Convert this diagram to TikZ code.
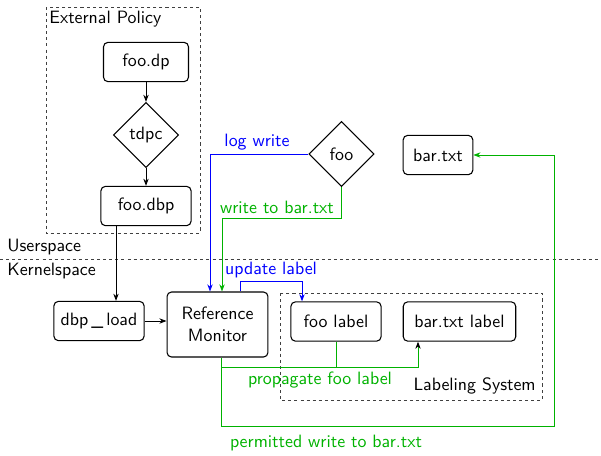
\documentclass[tikz,border=0pt]{standalone}
\usepackage{xcolor}
\usepackage{tikz}
\usetikzlibrary{shapes.geometric, arrows.meta}

\begin{document}
\begin{tikzpicture}[
    x=0.56pt, y=-0.56pt,
    every node/.style={font=\sffamily},
    box/.style={rectangle, draw, semithick, rounded corners=2.5pt, minimum height=22pt, align=center},
    choice/.style={diamond, draw, semithick, aspect=1, inner sep=0pt, minimum size=36.5pt},
    group/.style={draw, black!75, dash pattern=on 1.7pt off 1.7pt},
    tag/.style={inner sep=0pt},
    arrow/.style={-{Stealth[length=4pt, width=3pt]}, line width=0.5pt},
    logline/.style={arrow, blue},
    writeline/.style={arrow, green!70!black}
]
\useasboundingbox (0,0) rectangle (601,455);

% Userspace / Kernelspace border
\draw[group] (0,259) -- (601,259);
\node[tag, anchor=west] (user) at (7,247) {Userspace};
\node[tag, anchor=west] (kernel) at (7,271) {Kernelspace};

% External policy
\draw[group] (46,7) rectangle (200,233);
\node[tag, anchor=west] (policy) at (49,19) {External Policy};
\node[box, minimum width=47.6pt] (dp) at (146,62) {foo.dp};
\node[choice] (tdpc) at (146,135) {tdpc};
\node[box, minimum width=50.5pt] (dbp) at (146,206) {foo.dbp};

% Userspace objects
\node[choice] (foo) at (341.5,154) {foo};
\node[box, minimum width=39pt] (bar) at (438,155) {bar.txt};

% Kernel
\node[box, minimum width=50.5pt] (load) at (99,321) {dbp\,\_\,load};
\node[box, minimum width=56.5pt, minimum height=36.4pt] (rm) at (217.5,324.5) {Reference\\Monitor};

% Labeling system
\draw[group] (280,293) rectangle (542,400);
\node[tag, anchor=east] (labeling) at (536,386) {Labeling System};
\node[box, minimum width=50.5pt] (flabel) at (336,321.5) {foo label};
\node[box, minimum width=63pt] (blabel) at (459.5,321.5) {bar.txt label};

% Bends
\coordinate (drop) at (116,0);
\coordinate (logx) at (210,0);
\coordinate (wrbend) at (222,218);
\coordinate (upd) at (240,281);
\coordinate (updx) at (302,0);
\coordinate (prop) at (221,367);
\coordinate (propx) at (418,0);
\coordinate (perm) at (554,426);

% Arrows
\draw[arrow] (dp) -- (tdpc);
\draw[arrow] (tdpc) -- (dbp);
\draw[arrow] (dbp.south -| drop) -- (load.north -| drop);
\draw[arrow] (load) -- (load -| rm.west);
\draw[logline] (foo.west) -| (rm.north -| logx);
\draw[writeline] (foo.south) |- (wrbend) -- (rm.north -| wrbend);
\draw[logline] (rm.north -| upd) -- (upd) -| (flabel.north -| updx);
\draw[writeline, -{Stealth[black, length=4pt, width=3pt]}] (rm.south -| prop) |- (prop -| propx) -- (blabel.south -| propx);
\draw[writeline, -] (flabel.south) -- (flabel.south |- prop);
\draw[writeline] (rm.south -| prop) |- (perm) |- (bar.east);

% Connector labels
\node[tag, blue] (logtxt) at (257,142) {log write};
\node[tag, green!70!black] (wrtxt) at (277,207) {write to bar.txt};
\node[tag, blue] (updtxt) at (271,270) {update label};
\node[tag, green!70!black] (proptxt) at (320,380) {propagate foo label};
\node[tag, green!70!black] (permtxt) at (326,443) {permitted write to bar.txt};

\end{tikzpicture}
\end{document}
